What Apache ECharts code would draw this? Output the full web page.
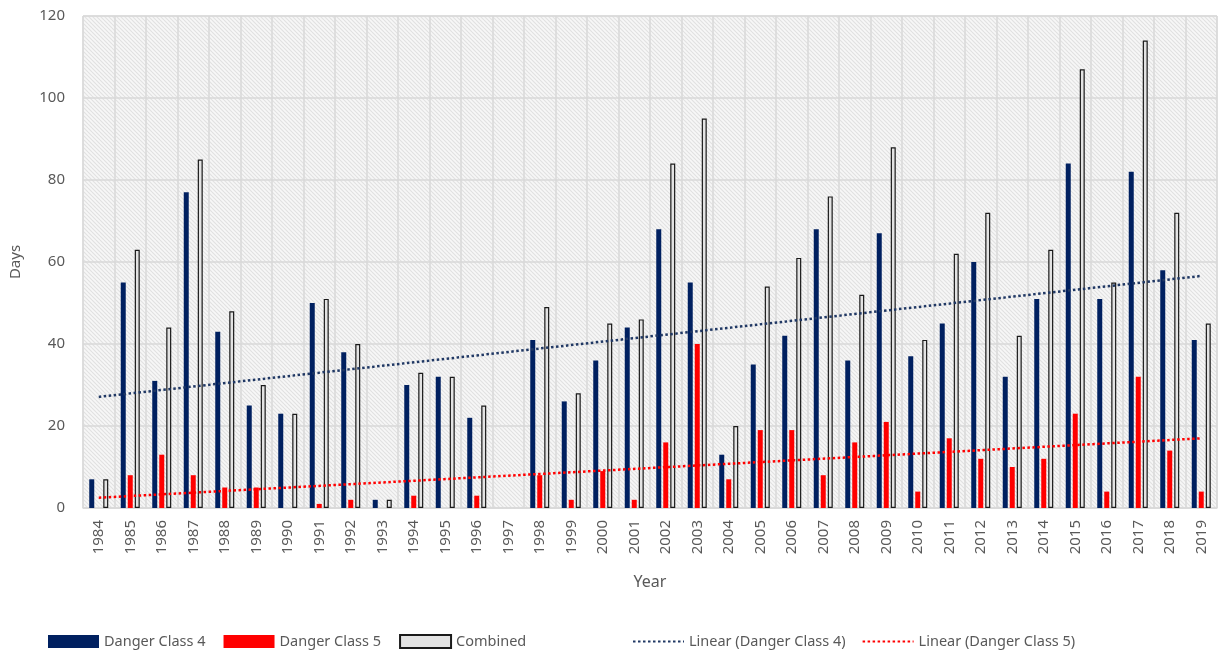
<!DOCTYPE html>
<html>
<head>
<meta charset="utf-8">
<script src="https://cdn.jsdelivr.net/npm/echarts@6/dist/echarts.min.js"></script>
<style>
  html, body { margin: 0; padding: 0; background: #fff; }
  #main { width: 1222px; height: 656px; }
</style>
</head>
<body>
<div id="main"></div>
<script>
// years on the x axis
const years = ['1984','1985','1986','1987','1988','1989','1990','1991','1992','1993','1994','1995',
  '1996','1997','1998','1999','2000','2001','2002','2003','2004','2005','2006','2007',
  '2008','2009','2010','2011','2012','2013','2014','2015','2016','2017','2018','2019'];
// days per year (1997 has no bars)
const class4 = [7,55,31,77,43,25,23,50,38,2,30,32,22,null,41,26,36,44,68,55,13,35,42,68,36,67,37,45,60,32,51,84,51,82,58,41];
const class5 = [0,8,13,8,5,5,0,1,2,0,3,0,3,null,8,2,9,2,16,40,7,19,19,8,16,21,4,17,12,10,12,23,4,32,14,4];
const combined = [7,63,44,85,48,30,23,51,40,2,33,32,25,null,49,28,45,46,84,95,20,54,61,76,52,88,41,62,72,42,63,107,55,114,72,45];
// trend line ends (first year, last year)
const trend4 = [27.1, 56.6];
const trend5 = [2.5, 17.0];
const yTicks = { min: 0, max: 120, step: 20 };

const grey = '#595959';
const font = '"Noto Sans", sans-serif';

// diagonal hatch used in the plot area
function hatch() {
  const c = document.createElement('canvas');
  c.width = 4; c.height = 4;
  const g = c.getContext('2d');
  g.fillStyle = '#f7f7f7';
  g.fillRect(0, 0, 4, 4);
  g.strokeStyle = '#e0e0e0';
  g.lineWidth = 1.1;
  for (let k = -1; k <= 1; k++) {
    g.beginPath();
    g.moveTo(0, 4 * k);
    g.lineTo(4, 4 + 4 * k);
    g.stroke();
  }
  return c;
}

const legendText = { color: grey, fontSize: 14.5, fontFamily: font };
const hideDot = { opacity: 0 };

const chart = echarts.init(document.getElementById('main'));

const option = {
  animation: false,
  textStyle: { fontFamily: font },
  grid: {
    left: 83, right: 5, top: 16, bottom: 148,
    show: true,
    backgroundColor: { image: hatch(), repeat: 'repeat' },
    borderColor: '#d9d9d9',
    borderWidth: 1
  },
  legend: [
    {
      left: 43, bottom: 2,
      itemWidth: 51, itemHeight: 13, itemGap: 18,
      textStyle: legendText,
      data: [
        { name: 'Danger Class 4', icon: 'rect' },
        { name: 'Danger Class 5', icon: 'rect' },
        { name: 'Combined', icon: 'rect' }
      ]
    },
    {
      left: 627, bottom: 2,
      itemWidth: 51, itemHeight: 13, itemGap: 16,
      textStyle: legendText,
      data: [
        { name: 'Linear (Danger Class 4)', itemStyle: hideDot },
        { name: 'Linear (Danger Class 5)', itemStyle: hideDot }
      ]
    }
  ],
  xAxis: {
    type: 'category',
    data: years,
    name: 'Year',
    nameLocation: 'middle',
    nameGap: 66,
    nameTextStyle: { color: grey, fontSize: 16 },
    axisLine: { lineStyle: { color: '#d9d9d9', width: 1.5 } },
    axisTick: { show: false },
    axisLabel: { rotate: 90, color: grey, fontSize: 15, margin: 12, interval: 0 },
    splitLine: { show: true, lineStyle: { color: '#d9d9d9', width: 1.5 } }
  },
  yAxis: {
    type: 'value',
    min: yTicks.min, max: yTicks.max, interval: yTicks.step,
    name: 'Days',
    nameLocation: 'middle',
    nameGap: 60,
    nameTextStyle: { color: grey, fontSize: 15 },
    axisLine: { show: false },
    axisTick: { show: false },
    axisLabel: { color: grey, fontSize: 15, margin: 18 },
    splitLine: { lineStyle: { color: '#d9d9d9', width: 1.5 } }
  },
  series: [
    {
      name: 'Danger Class 4', type: 'bar', data: class4,
      barWidth: 5, barGap: '40%',
      itemStyle: { color: '#002060' }
    },
    {
      name: 'Danger Class 5', type: 'bar', data: class5,
      barWidth: 5, barGap: '40%',
      itemStyle: { color: '#ff0000' }
    },
    {
      name: 'Combined', type: 'bar', data: combined,
      barWidth: 5, barGap: '40%',
      itemStyle: { color: '#e3e3e3', borderColor: '#1a1a1a', borderWidth: 1.2 }
    },
    {
      name: 'Linear (Danger Class 4)', type: 'line', z: 5,
      symbol: 'none',
      data: [[years[0], trend4[0]], [years[years.length - 1], trend4[1]]],
      lineStyle: { color: '#203864', width: 2.5, type: [2.5, 2.5] },
      itemStyle: { color: '#203864' }
    },
    {
      name: 'Linear (Danger Class 5)', type: 'line', z: 5,
      symbol: 'none',
      data: [[years[0], trend5[0]], [years[years.length - 1], trend5[1]]],
      lineStyle: { color: '#ff0000', width: 2.5, type: [2.5, 2.5] },
      itemStyle: { color: '#ff0000' }
    }
  ]
};

chart.setOption(option);
</script>
</body>
</html>
